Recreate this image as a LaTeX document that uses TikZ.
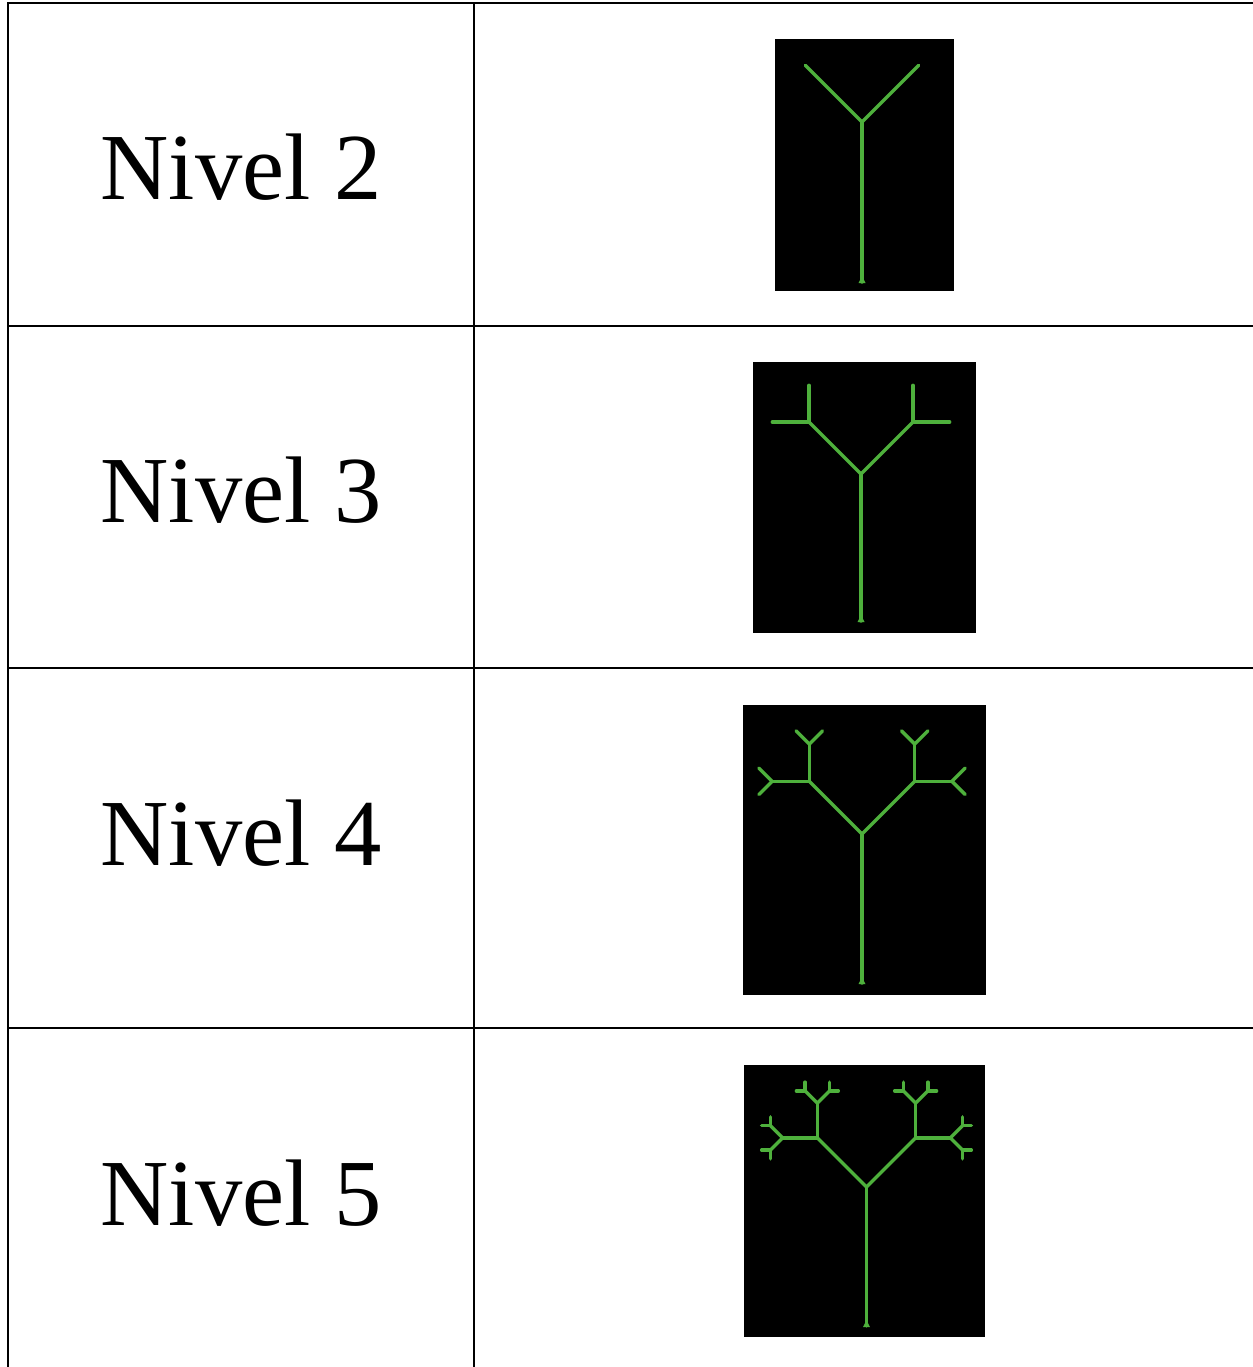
\documentclass[tikz,border=0pt]{standalone}
\usepackage{fontspec}
\setmainfont{Liberation Serif}
\definecolor{leaf}{RGB}{78,176,60}
\tikzset{
  grid/.style={line width=1pt, black},
  label/.style={anchor=base, font=\fontsize{47.3pt}{56pt}\selectfont, inner sep=0pt},
  canvas/.style={fill=black, draw=none},
  treeline/.style={leaf, line width=1.7pt, line cap=round},
}
% recursive branch: x, y, angle, length, depth
\def\brn#1#2#3#4#5{%
  \ifnum#5>0
    \pgfmathsetmacro\bx{#1+#4*cos(#3)}%
    \pgfmathsetmacro\by{#2+#4*sin(#3)}%
    \draw[treeline] (#1,#2) -- (\bx,\by);
    \pgfmathsetmacro\bl{#4/2}%
    \pgfmathtruncatemacro\bd{#5-1}%
    \pgfmathsetmacro\ba{#3+45}%
    \pgfmathsetmacro\bb{#3-45}%
    \edef\bnext{\noexpand\brn{\bx}{\by}{\ba}{\bl}{\bd}\noexpand\brn{\bx}{\by}{\bb}{\bl}{\bd}}%
  \else
    \let\bnext\relax
  \fi
  \bnext}
% tree: base x, base y, trunk length, levels
\newcommand\fractree[4]{%
  \fill[leaf] (#1-3.5,#2+1) -- (#1,#2-6) -- (#1+3.5,#2+1) -- cycle;
  \brn{#1}{#2}{-90}{#3}{#4}}
\begin{document}
\begin{tikzpicture}[x=0.5pt, y=-0.5pt]
  \useasboundingbox (0,0) rectangle (1253,1367);
  % table grid
  \draw[grid] (8,1367) -- (8,3) -- (1253,3);
  \draw[grid] (473.5,3) -- (473.5,1367);
  \draw[grid] (8,326) -- (1253,326);
  \draw[grid] (8,668) -- (1253,668);
  \draw[grid] (8,1028) -- (1253,1028);
  % row labels
  \node[label] (n2) at (241,199) {Nivel 2};
  \node[label] (n3) at (241,522) {Nivel 3};
  \node[label] (n4) at (241,865) {Nivel 4};
  \node[label] (n5) at (241,1225) {Nivel 5};
  % canvases with trees
  \fill[canvas] (775,39) rectangle (954,291);
  \fractree{862}{282}{160}{2}
  \fill[canvas] (753,362) rectangle (976,633);
  \fractree{861}{621}{147}{3}
  \fill[canvas] (743,705) rectangle (986,995);
  \fractree{862}{983}{149}{4}
  \fill[canvas] (744,1065) rectangle (985,1337);
  \fractree{866.5}{1326}{139}{5}
\end{tikzpicture}
\end{document}
